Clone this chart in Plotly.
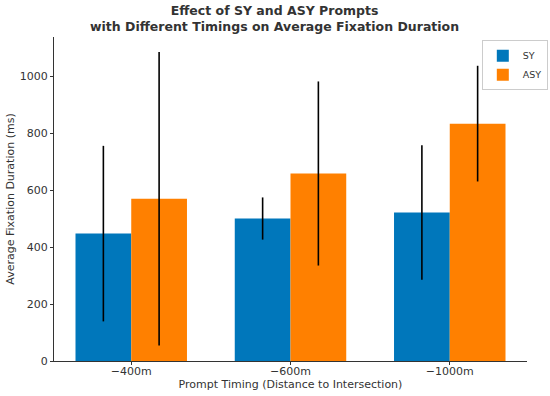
import plotly.graph_objects as go

categories = ["\u2212400m", "\u2212600m", "\u22121000m"]
sy_mean = [447, 500, 521]
sy_err = [308, 74, 236]
asy_mean = [569, 658, 833]
asy_err = [515, 323, 203]

font_family = "DejaVu Sans, sans-serif"

fig = go.Figure()
fig.add_trace(go.Bar(
    name="SY", x=categories, y=sy_mean, marker=dict(color="#0077bb", line=dict(width=0)),
    error_y=dict(type="data", array=sy_err, visible=True, color="black", thickness=1.6, width=0),
))
fig.add_trace(go.Bar(
    name="ASY", x=categories, y=asy_mean, marker=dict(color="#ff8000", line=dict(width=0)),
    error_y=dict(type="data", array=asy_err, visible=True, color="black", thickness=1.6, width=0),
))

fig.add_annotation(
    text="<b>Effect of SY and ASY Prompts<br>with Different Timings on Average Fixation Duration</b>",
    xref="paper", yref="paper", x=0.467, y=1.056, xanchor="center", yanchor="middle",
    showarrow=False, font=dict(family=font_family, size=12.5, color="#333333"),
)

fig.update_layout(
    width=550, height=396,
    barmode="group", bargap=0.3, bargroupgap=0,
    plot_bgcolor="white", paper_bgcolor="white",
    margin=dict(l=54, r=23, t=37, b=35, autoexpand=False),
    font=dict(family=font_family, size=11, color="#333333"),
    legend=dict(
        x=1.044, y=0.99, xanchor="right", yanchor="top",
        bgcolor="rgba(255,255,255,0.8)", bordercolor="#cccccc", borderwidth=1,
        font=dict(size=9.5, color="#333333"), itemwidth=30, tracegroupgap=0,
    ),
    xaxis=dict(
        range=[-0.485, 2.485], showgrid=False, showline=True, linecolor="#333333", linewidth=1,
        ticks="outside", ticklen=3, tickcolor="#333333", automargin=True, ticklabelstandoff=-3,
        title=dict(text="Prompt Timing (Distance to Intersection)", standoff=1, font=dict(size=11)),
    ),
    yaxis=dict(
        range=[0, 1137], showgrid=False, showline=True, linecolor="#333333", linewidth=1,
        ticks="outside", ticklen=3, tickcolor="#333333", tickvals=[0, 200, 400, 600, 800, 1000],
        zeroline=False, automargin=True,
        title=dict(text="Average Fixation Duration (ms)", standoff=2, font=dict(size=11)),
    ),
)

fig.write_html("out.html", config={"displayModeBar": False},
               post_script="document.body.style.margin='0px';")
